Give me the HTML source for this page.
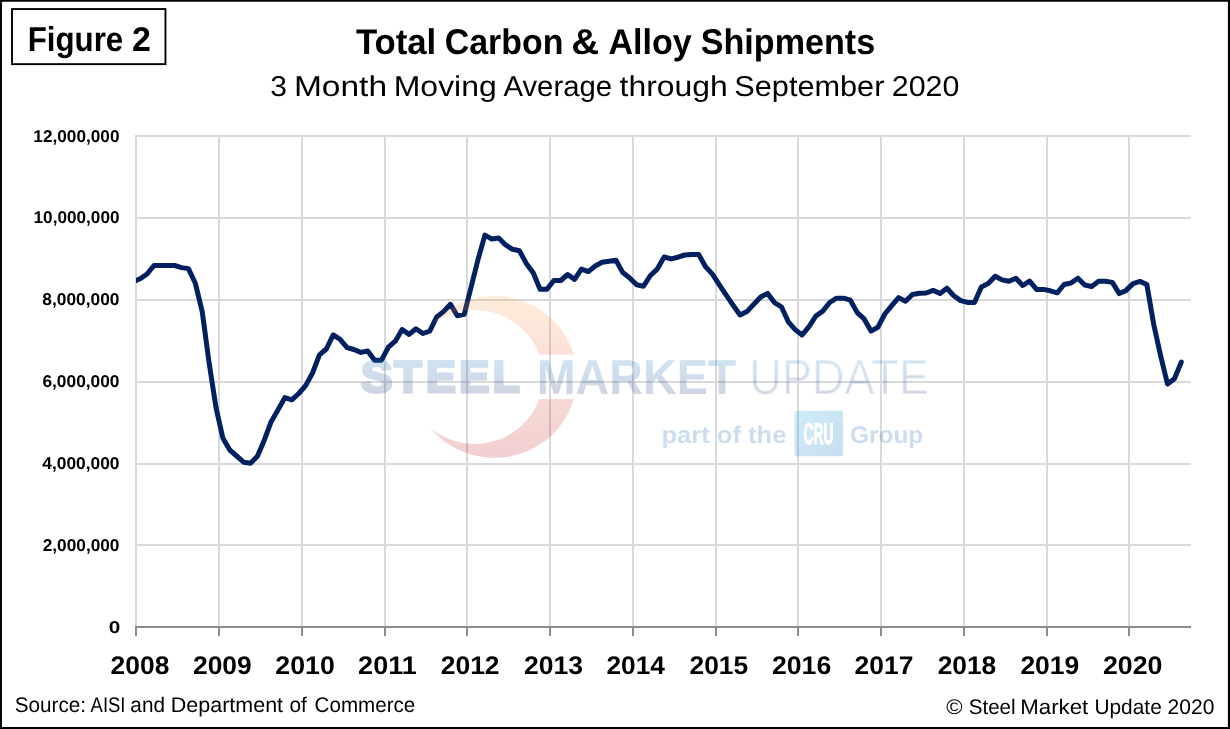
<!DOCTYPE html>
<html lang="en">
<head>
<meta charset="utf-8">
<title>Figure 2 - Total Carbon &amp; Alloy Shipments</title>
<style>
html,body{margin:0;padding:0;background:#fff;}
body{width:1230px;height:729px;overflow:hidden;}
svg{display:block;font-family:"Liberation Sans",sans-serif;text-rendering:geometricPrecision;}
</style>
</head>
<body>
<svg width="1230" height="729" viewBox="0 0 1230 729">
<defs>
<clipPath id="plotclip"><rect x="136" y="130" width="1060" height="500"/></clipPath>
<linearGradient id="gtxt" x1="0" y1="360" x2="0" y2="394" gradientUnits="userSpaceOnUse">
<stop offset="0" stop-color="#2783c3"/><stop offset="1" stop-color="#2f3f83"/></linearGradient>
<linearGradient id="garc" x1="0" y1="296" x2="0" y2="458" gradientUnits="userSpaceOnUse">
<stop offset="0" stop-color="#fa9e38"/><stop offset="0.25" stop-color="#f46f31"/><stop offset="1" stop-color="#b10005"/></linearGradient>
<linearGradient id="gcru" x1="794" y1="410" x2="843" y2="456" gradientUnits="userSpaceOnUse">
<stop offset="0" stop-color="#21abe0"/><stop offset="1" stop-color="#0b6cbc"/></linearGradient>
<mask id="cres" maskUnits="userSpaceOnUse" x="400" y="285" width="190" height="185"><ellipse cx="494.4" cy="377" rx="82.5" ry="80.9" fill="#fff"/><ellipse cx="474.6" cy="376.9" rx="68.4" ry="67" fill="#000"/></mask>
<filter id="thin" x="-5%" y="-20%" width="110%" height="140%" color-interpolation-filters="sRGB"><feMorphology operator="erode" radius="1" result="e"/><feComposite in="SourceGraphic" in2="e" operator="arithmetic" k1="0" k2="0.55" k3="0.45" k4="0"/></filter>
<clipPath id="arcclip"><path d="M300 280H620V354.4H300ZM300 399.05H620V470H300Z"/></clipPath>
</defs>
<rect x="0" y="0" width="1230" height="729" fill="#fff"/>
<g stroke="#d9d9d9" stroke-width="2" fill="none"><line x1="135" x2="1191" y1="545" y2="545"/><line x1="135" x2="1191" y1="464" y2="464"/><line x1="135" x2="1191" y1="382" y2="382"/><line x1="135" x2="1191" y1="300" y2="300"/><line x1="135" x2="1191" y1="218" y2="218"/><line x1="135" x2="1191" y1="136" y2="136"/><line x1="136" x2="136" y1="135" y2="626"/><line x1="219" x2="219" y1="135" y2="626"/><line x1="302" x2="302" y1="135" y2="626"/><line x1="385" x2="385" y1="135" y2="626"/><line x1="467" x2="467" y1="135" y2="626"/><line x1="550" x2="550" y1="135" y2="626"/><line x1="633" x2="633" y1="135" y2="626"/><line x1="716" x2="716" y1="135" y2="626"/><line x1="798" x2="798" y1="135" y2="626"/><line x1="881" x2="881" y1="135" y2="626"/><line x1="964" x2="964" y1="135" y2="626"/><line x1="1047" x2="1047" y1="135" y2="626"/><line x1="1129" x2="1129" y1="135" y2="626"/></g>
<g stroke="#8c8c8c" stroke-width="2" fill="none"><line x1="135" x2="1191" y1="627" y2="627"/><line x1="136" x2="136" y1="627" y2="635.9"/><line x1="219" x2="219" y1="627" y2="635.9"/><line x1="302" x2="302" y1="627" y2="635.9"/><line x1="385" x2="385" y1="627" y2="635.9"/><line x1="467" x2="467" y1="627" y2="635.9"/><line x1="550" x2="550" y1="627" y2="635.9"/><line x1="633" x2="633" y1="627" y2="635.9"/><line x1="716" x2="716" y1="627" y2="635.9"/><line x1="798" x2="798" y1="627" y2="635.9"/><line x1="881" x2="881" y1="627" y2="635.9"/><line x1="964" x2="964" y1="627" y2="635.9"/><line x1="1047" x2="1047" y1="627" y2="635.9"/><line x1="1129" x2="1129" y1="627" y2="635.9"/></g>
<polyline clip-path="url(#plotclip)" points="133.27,281.6 140.17,278.7 147.06,274.0 153.96,265.5 160.85,265.5 167.75,265.5 174.64,265.5 181.54,267.6 188.43,268.6 195.32,283.2 202.22,311.7 209.12,363.0 216.01,407.6 222.91,438.3 229.80,450.0 236.69,456.0 243.59,462.2 250.49,463.2 257.38,456.3 264.27,440.2 271.17,421.7 278.06,409.8 284.96,397.6 291.86,399.8 298.75,393.5 305.64,385.6 312.54,373.0 319.44,354.9 326.33,349.0 333.23,334.9 340.12,339.3 347.01,347.6 353.91,349.5 360.81,352.4 367.70,351.0 374.60,360.2 381.49,360.2 388.38,347.1 395.28,341.2 402.17,329.5 409.07,334.4 415.97,328.8 422.86,333.5 429.75,331.1 436.65,317.0 443.54,311.6 450.44,304.3 457.34,315.7 464.23,314.3 471.12,287.0 478.02,259.5 484.91,235.1 491.81,239.0 498.71,238.0 505.60,244.9 512.50,249.3 519.39,250.7 526.28,263.4 533.18,272.7 540.07,289.3 546.97,289.3 553.87,280.5 560.76,280.5 567.65,274.5 574.55,279.4 581.44,269.1 588.34,271.6 595.24,266.0 602.13,262.3 609.02,261.3 615.92,260.2 622.81,272.6 629.71,277.9 636.61,284.8 643.50,286.2 650.39,275.5 657.29,269.1 664.18,257.0 671.08,258.9 677.97,257.2 684.87,255.0 691.76,254.4 698.66,254.4 705.55,266.8 712.45,274.1 719.34,284.9 726.24,295.1 733.13,305.3 740.03,315.0 746.92,311.6 753.82,304.3 760.71,297.0 767.61,293.4 774.50,302.6 781.40,306.8 788.29,321.8 795.19,329.6 802.08,335.0 808.98,326.7 815.87,316.0 822.77,311.1 829.66,302.5 836.56,298.2 843.45,298.2 850.35,300.2 857.24,312.6 864.14,318.9 871.03,331.1 877.93,327.2 884.82,314.0 891.72,305.7 898.61,297.6 905.51,301.3 912.40,294.5 919.30,293.3 926.19,293.0 933.09,290.4 939.98,293.4 946.88,288.2 953.77,295.7 960.67,300.6 967.56,302.4 974.46,302.4 981.35,287.0 988.25,283.5 995.14,276.2 1002.04,279.9 1008.93,281.3 1015.83,278.2 1022.72,285.5 1029.62,281.1 1036.51,289.4 1043.41,289.4 1050.31,290.8 1057.20,292.8 1064.10,284.5 1070.99,283.0 1077.88,278.2 1084.78,285.0 1091.67,286.5 1098.57,281.3 1105.46,281.3 1112.36,282.4 1119.25,293.6 1126.15,290.4 1133.05,283.6 1139.94,281.4 1146.84,284.5 1153.73,324.5 1160.62,355.7 1167.52,384.0 1174.41,378.7 1181.31,362.1" fill="none" stroke="#002060" stroke-width="5" stroke-linejoin="round" stroke-linecap="round"/>
<g id="wmarc" opacity="0.18">
<g clip-path="url(#arcclip)"><rect x="405" y="290" width="180" height="175" fill="url(#garc)" mask="url(#cres)"/></g>
</g>
<g id="wm" opacity="0.225">
<text id="wsteel" y="392.3" font-size="44.5" font-weight="bold" fill="url(#gtxt)" stroke="url(#gtxt)" stroke-width="3" stroke-linejoin="miter"><tspan x="361.13" textLength="31.46" lengthAdjust="spacingAndGlyphs">S</tspan><tspan x="394.33" textLength="27.44" lengthAdjust="spacingAndGlyphs">T</tspan><tspan x="425.93" textLength="29.77" lengthAdjust="spacingAndGlyphs">E</tspan><tspan x="459.17" textLength="30.16" lengthAdjust="spacingAndGlyphs">E</tspan><tspan x="492.74" textLength="26.91" lengthAdjust="spacingAndGlyphs">L</tspan></text>
<text id="wmarket" x="536.64" y="393.85" font-size="49.2" font-weight="bold" fill="url(#gtxt)" textLength="199.76" lengthAdjust="spacingAndGlyphs">MARKET</text>
<text id="wupdate" x="749.35" y="393.80" font-size="49.4" fill="url(#gtxt)" textLength="179.67" lengthAdjust="spacingAndGlyphs" filter="url(#thin)">UPDATE</text>
<text id="wpart" x="661.50" y="442.90" font-size="24.2" font-weight="bold" fill="#1868b3" textLength="124.90" lengthAdjust="spacingAndGlyphs">part of the</text>
<text id="wgroup" x="849.92" y="442.90" font-size="24.2" font-weight="bold" fill="#1868b3" textLength="73.43" lengthAdjust="spacingAndGlyphs">Group</text>
<rect x="794.4" y="410.65" width="48.6" height="45.55" rx="2.8" fill="url(#gcru)"/>
</g>
<text id="wcru" x="803.50" y="443.80" font-size="30.1" font-weight="bold" fill="#fff" textLength="30.16" lengthAdjust="spacingAndGlyphs" stroke="#fff" stroke-width="1.2">CRU</text>
<rect x="12.0" y="9.05" width="153.45" height="55.1" fill="none" stroke="#000" stroke-width="1.9"/>
<text id="fig" y="50.6" font-size="34.5" font-weight="bold" fill="#000"><tspan x="27.66" textLength="95.57" lengthAdjust="spacingAndGlyphs">Figure</tspan> <tspan x="132.12" textLength="18.86" lengthAdjust="spacingAndGlyphs">2</tspan></text>
<text id="title" y="53.8" font-size="35.7" font-weight="bold" fill="#000"><tspan x="355.89" textLength="80.41" lengthAdjust="spacingAndGlyphs">Total</tspan> <tspan x="444.80" textLength="118.63" lengthAdjust="spacingAndGlyphs">Carbon</tspan> <tspan x="571.38" textLength="27.89" lengthAdjust="spacingAndGlyphs">&amp;</tspan> <tspan x="608.49" textLength="83.33" lengthAdjust="spacingAndGlyphs">Alloy</tspan> <tspan x="700.71" textLength="174.50" lengthAdjust="spacingAndGlyphs">Shipments</tspan></text>
<text id="sub" y="95.7" font-size="28.7" fill="#000"><tspan x="270.31" textLength="16.70" lengthAdjust="spacingAndGlyphs">3</tspan> <tspan x="293.94" textLength="93.09" lengthAdjust="spacingAndGlyphs">Month</tspan> <tspan x="393.78" textLength="102.97" lengthAdjust="spacingAndGlyphs">Moving</tspan> <tspan x="503.46" textLength="108.59" lengthAdjust="spacingAndGlyphs">Average</tspan> <tspan x="619.64" textLength="108.17" lengthAdjust="spacingAndGlyphs">through</tspan> <tspan x="734.32" textLength="150.09" lengthAdjust="spacingAndGlyphs">September</tspan> <tspan x="891.77" textLength="67.67" lengthAdjust="spacingAndGlyphs">2020</tspan></text>
<text id="src" y="711.6" font-size="21.2" fill="#000"><tspan x="14.70" textLength="71.34" lengthAdjust="spacingAndGlyphs">Source:</tspan> <tspan x="90.60" textLength="34.84" lengthAdjust="spacingAndGlyphs">AISI</tspan> <tspan x="130.36" textLength="34.61" lengthAdjust="spacingAndGlyphs">and</tspan> <tspan x="170.86" textLength="112.20" lengthAdjust="spacingAndGlyphs">Department</tspan> <tspan x="289.39" textLength="17.35" lengthAdjust="spacingAndGlyphs">of</tspan> <tspan x="314.58" textLength="100.69" lengthAdjust="spacingAndGlyphs">Commerce</tspan></text>
<text id="copy" y="713.7" font-size="21.0" fill="#000"><tspan x="946.35" textLength="16.27" lengthAdjust="spacingAndGlyphs">©</tspan> <tspan x="968.70" textLength="46.95" lengthAdjust="spacingAndGlyphs">Steel</tspan> <tspan x="1020.23" textLength="68.08" lengthAdjust="spacingAndGlyphs">Market</tspan> <tspan x="1094.44" textLength="67.30" lengthAdjust="spacingAndGlyphs">Update</tspan> <tspan x="1167.57" textLength="46.78" lengthAdjust="spacingAndGlyphs">2020</tspan></text>
<text id="y0" x="108.68" y="632.75" font-size="17.1" font-weight="bold" fill="#000" textLength="11.54" lengthAdjust="spacingAndGlyphs">0</text>
<text id="y1" x="42.73" y="550.75" font-size="17.1" font-weight="bold" fill="#000" textLength="76.73" lengthAdjust="spacingAndGlyphs">2,000,000</text>
<text id="y2" x="42.35" y="468.75" font-size="17.1" font-weight="bold" fill="#000" textLength="77.16" lengthAdjust="spacingAndGlyphs">4,000,000</text>
<text id="y3" x="42.43" y="386.75" font-size="17.1" font-weight="bold" fill="#000" textLength="77.09" lengthAdjust="spacingAndGlyphs">6,000,000</text>
<text id="y4" x="42.34" y="304.85" font-size="17.1" font-weight="bold" fill="#000" textLength="77.08" lengthAdjust="spacingAndGlyphs">8,000,000</text>
<text id="y5" x="33.56" y="222.75" font-size="17.1" font-weight="bold" fill="#000" textLength="85.97" lengthAdjust="spacingAndGlyphs">10,000,000</text>
<text id="y6" x="33.38" y="141.75" font-size="17.1" font-weight="bold" fill="#000" textLength="86.15" lengthAdjust="spacingAndGlyphs">12,000,000</text>
<text id="x2008" x="110.64" y="673.90" font-size="25.5" font-weight="bold" fill="#000" textLength="58.68" lengthAdjust="spacingAndGlyphs">2008</text>
<text id="x2009" x="192.97" y="673.90" font-size="25.5" font-weight="bold" fill="#000" textLength="58.76" lengthAdjust="spacingAndGlyphs">2009</text>
<text id="x2010" x="275.39" y="673.90" font-size="25.5" font-weight="bold" fill="#000" textLength="59.42" lengthAdjust="spacingAndGlyphs">2010</text>
<text id="x2011" x="358.14" y="673.90" font-size="25.5" font-weight="bold" fill="#000" textLength="58.54" lengthAdjust="spacingAndGlyphs">2011</text>
<text id="x2012" x="440.70" y="673.90" font-size="25.5" font-weight="bold" fill="#000" textLength="58.90" lengthAdjust="spacingAndGlyphs">2012</text>
<text id="x2013" x="523.93" y="673.90" font-size="25.5" font-weight="bold" fill="#000" textLength="58.95" lengthAdjust="spacingAndGlyphs">2013</text>
<text id="x2014" x="606.43" y="673.90" font-size="25.5" font-weight="bold" fill="#000" textLength="58.44" lengthAdjust="spacingAndGlyphs">2014</text>
<text id="x2015" x="689.53" y="673.90" font-size="25.5" font-weight="bold" fill="#000" textLength="58.66" lengthAdjust="spacingAndGlyphs">2015</text>
<text id="x2016" x="771.96" y="673.90" font-size="25.5" font-weight="bold" fill="#000" textLength="59.29" lengthAdjust="spacingAndGlyphs">2016</text>
<text id="x2017" x="854.64" y="673.90" font-size="25.5" font-weight="bold" fill="#000" textLength="58.70" lengthAdjust="spacingAndGlyphs">2017</text>
<text id="x2018" x="937.65" y="673.90" font-size="25.5" font-weight="bold" fill="#000" textLength="58.61" lengthAdjust="spacingAndGlyphs">2018</text>
<text id="x2019" x="1020.40" y="673.90" font-size="25.5" font-weight="bold" fill="#000" textLength="58.88" lengthAdjust="spacingAndGlyphs">2019</text>
<text id="x2020" x="1102.95" y="673.90" font-size="25.5" font-weight="bold" fill="#000" textLength="59.58" lengthAdjust="spacingAndGlyphs">2020</text>
<path fill="#000" fill-rule="evenodd" d="M0 0H1230V729H0ZM1.95 1.8V727H1227.9V1.8Z"/>
</svg>
</body>
</html>
